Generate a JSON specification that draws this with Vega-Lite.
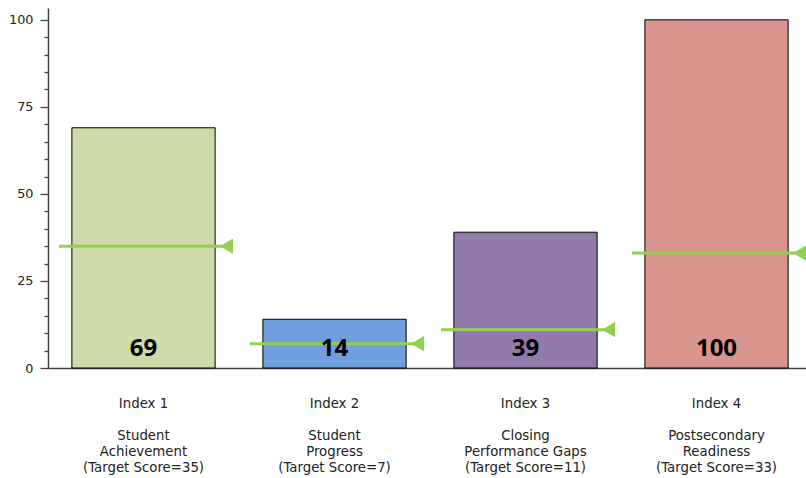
{
  "$schema": "https://vega.github.io/schema/vega-lite/v6.json",
  "autosize": "none",
  "width": 764,
  "height": 360,
  "padding": {"left": 48, "top": 8, "right": 0, "bottom": 110},
  "background": "white",
  "config": {"view": {"stroke": null}},
  "data": {
    "values": [
      {"cat": "Index 1|\u2800|Student|Achievement|(Target Score=35)", "score": 69, "target": 35},
      {"cat": "Index 2|\u2800|Student|Progress|(Target Score=7)", "score": 14, "target": 7},
      {"cat": "Index 3|\u2800|Closing|Performance Gaps|(Target Score=11)", "score": 39, "target": 11},
      {"cat": "Index 4|\u2800|Postsecondary|Readiness|(Target Score=33)", "score": 100, "target": 33}
    ]
  },
  "encoding": {
    "x": {
      "field": "cat", "type": "nominal", "sort": null,
      "scale": {"paddingInner": 0.25, "paddingOuter": 0.125},
      "axis": {
        "title": null, "labelAngle": 0, "ticks": false, "tickSize": 0,
        "labelExpr": "split(datum.label, '|')",
        "labelFont": "DejaVu Sans", "labelFontSize": 13.3, "labelColor": "#222",
        "labelLineHeight": 16, "labelPadding": 28, "labelBaseline": "top",
        "domainColor": "#444", "domainWidth": 1.5
      }
    }
  },
  "layer": [
    {
      "mark": {"type": "bar", "stroke": "black", "strokeWidth": 1},
      "encoding": {
        "y": {
          "field": "score", "type": "quantitative",
          "scale": {"domain": [0, 103.4], "nice": false, "zero": true},
          "axis": {
            "title": null, "grid": false,
            "values": [0,5,10,15,20,25,30,35,40,45,50,55,60,65,70,75,80,85,90,95,100],
            "labelExpr": "datum.value % 25 === 0 ? datum.label : ''",
            "labelOverlap": false,
            "tickSize": {"condition": {"test": "datum.value % 25 === 0", "value": 8}, "value": 4},
            "tickColor": "#444", "tickWidth": 1.3,
            "labelFont": "DejaVu Sans", "labelFontSize": 12.8, "labelColor": "#222",
            "labelPadding": 7,
            "domainColor": "#444", "domainWidth": 1.5
          }
        },
        "color": {
          "field": "cat", "type": "nominal", "legend": null,
          "scale": {"range": ["#cddba9", "#6f9fdc", "#947bac", "#d89590"]}
        }
      }
    },
    {
      "mark": {"type": "tick", "orient": "horizontal", "size": 172, "thickness": 3, "xOffset": 1.5, "color": "#92d050", "opacity": 1},
      "encoding": {"y": {"field": "target", "type": "quantitative",
          "axis": {
            "title": null, "grid": false,
            "values": [0,5,10,15,20,25,30,35,40,45,50,55,60,65,70,75,80,85,90,95,100],
            "labelExpr": "datum.value % 25 === 0 ? datum.label : ''",
            "labelOverlap": false,
            "tickSize": {"condition": {"test": "datum.value % 25 === 0", "value": 8}, "value": 4},
            "tickColor": "#444", "tickWidth": 1.3,
            "labelFont": "DejaVu Sans", "labelFontSize": 12.8, "labelColor": "#222",
            "labelPadding": 7,
            "domainColor": "#444", "domainWidth": 1.5
          }}}
    },
    {
      "mark": {"type": "point", "shape": "triangle-left", "filled": true, "size": 230, "xOffset": 83, "color": "#92d050", "opacity": 1},
      "encoding": {"y": {"field": "target", "type": "quantitative",
          "axis": {
            "title": null, "grid": false,
            "values": [0,5,10,15,20,25,30,35,40,45,50,55,60,65,70,75,80,85,90,95,100],
            "labelExpr": "datum.value % 25 === 0 ? datum.label : ''",
            "labelOverlap": false,
            "tickSize": {"condition": {"test": "datum.value % 25 === 0", "value": 8}, "value": 4},
            "tickColor": "#444", "tickWidth": 1.3,
            "labelFont": "DejaVu Sans", "labelFontSize": 12.8, "labelColor": "#222",
            "labelPadding": 7,
            "domainColor": "#444", "domainWidth": 1.5
          }}}
    },
    {
      "mark": {"type": "text", "font": "Open Sans", "fontWeight": "bold", "fontSize": 24, "baseline": "alphabetic", "dy": -12, "color": "black"},
      "encoding": {"y": {"datum": 0, "type": "quantitative",
          "axis": {
            "title": null, "grid": false,
            "values": [0,5,10,15,20,25,30,35,40,45,50,55,60,65,70,75,80,85,90,95,100],
            "labelExpr": "datum.value % 25 === 0 ? datum.label : ''",
            "labelOverlap": false,
            "tickSize": {"condition": {"test": "datum.value % 25 === 0", "value": 8}, "value": 4},
            "tickColor": "#444", "tickWidth": 1.3,
            "labelFont": "DejaVu Sans", "labelFontSize": 12.8, "labelColor": "#222",
            "labelPadding": 7,
            "domainColor": "#444", "domainWidth": 1.5
          }}, "text": {"field": "score", "type": "quantitative"}}
    }
  ]
}
